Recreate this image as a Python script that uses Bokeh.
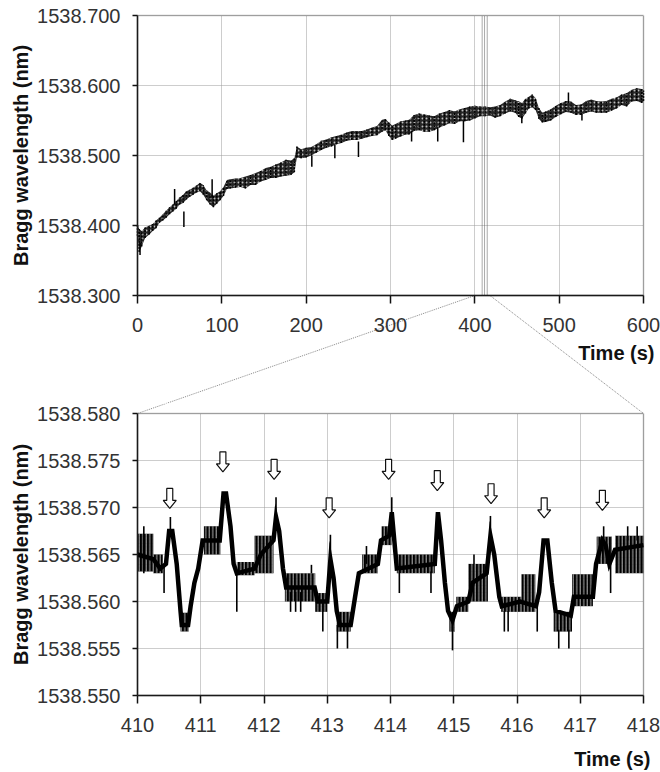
import math
from bokeh.plotting import figure
from bokeh.layouts import column
from bokeh.models import (FixedTicker, PrintfTickFormatter, Range1d, Label,
                          BoxAnnotation, Grid)
from bokeh.embed import file_html
from bokeh.resources import INLINE

# ---------------- data: full record (top panel) ----------------
top_time = [0, 2, 5, 9, 14, 18, 22, 26, 30, 34, 38, 42, 46, 50, 54, 58, 62, 66, 70, 74,
            78, 82, 86, 90, 94, 98, 102, 106, 110, 116, 122, 128, 134, 140, 146, 152, 158,
            164, 170, 176, 182, 186, 189, 194, 200, 206, 212, 218, 224, 230, 236, 242, 248,
            254, 260, 266, 272, 278, 284, 290, 294, 298, 302, 306, 312, 318, 322, 328, 334,
            340, 346, 352, 358, 364, 370, 376, 382, 388, 394, 400, 406, 412, 418, 424, 430,
            436, 442, 448, 452, 456, 460, 464, 468, 472, 476, 480, 484, 490, 496, 502, 508,
            514, 520, 526, 532, 538, 544, 550, 556, 562, 568, 574, 580, 586, 592, 598, 600]
top_lo = [1538.385, 1538.362, 1538.370, 1538.382, 1538.387, 1538.392, 1538.396, 1538.404,
          1538.407, 1538.411, 1538.416, 1538.420, 1538.424, 1538.430, 1538.432, 1538.437,
          1538.441, 1538.444, 1538.447, 1538.449, 1538.444, 1538.436, 1538.430, 1538.426,
          1538.431, 1538.436, 1538.442, 1538.452, 1538.453, 1538.454, 1538.455, 1538.453,
          1538.458, 1538.458, 1538.463, 1538.465, 1538.468, 1538.468, 1538.470, 1538.471,
          1538.472, 1538.476, 1538.497, 1538.496, 1538.497, 1538.500, 1538.504, 1538.508,
          1538.511, 1538.513, 1538.516, 1538.518, 1538.521, 1538.522, 1538.522, 1538.524,
          1538.526, 1538.528, 1538.529, 1538.534, 1538.536, 1538.528, 1538.522, 1538.524,
          1538.527, 1538.530, 1538.530, 1538.535, 1538.536, 1538.534, 1538.534, 1538.536,
          1538.540, 1538.543, 1538.546, 1538.545, 1538.549, 1538.549, 1538.550, 1538.553,
          1538.556, 1538.556, 1538.557, 1538.554, 1538.556, 1538.560, 1538.563, 1538.561,
          1538.555, 1538.553, 1538.560, 1538.567, 1538.569, 1538.565, 1538.552, 1538.547,
          1538.548, 1538.550, 1538.555, 1538.559, 1538.562, 1538.561, 1538.558, 1538.558,
          1538.561, 1538.563, 1538.561, 1538.561, 1538.561, 1538.564, 1538.567, 1538.572,
          1538.570, 1538.577, 1538.578, 1538.575, 1538.578]
top_hi = [1538.402, 1538.395, 1538.392, 1538.397, 1538.400, 1538.402, 1538.407, 1538.411,
          1538.416, 1538.421, 1538.426, 1538.430, 1538.435, 1538.440, 1538.444, 1538.449,
          1538.451, 1538.454, 1538.457, 1538.461, 1538.458, 1538.450, 1538.447, 1538.443,
          1538.446, 1538.449, 1538.455, 1538.465, 1538.466, 1538.467, 1538.468, 1538.470,
          1538.472, 1538.475, 1538.478, 1538.482, 1538.484, 1538.487, 1538.490, 1538.494,
          1538.493, 1538.496, 1538.513, 1538.509, 1538.511, 1538.512, 1538.516, 1538.521,
          1538.523, 1538.526, 1538.528, 1538.530, 1538.533, 1538.535, 1538.535, 1538.535,
          1538.537, 1538.540, 1538.542, 1538.551, 1538.552, 1538.547, 1538.543, 1538.545,
          1538.549, 1538.550, 1538.551, 1538.558, 1538.560, 1538.559, 1538.557, 1538.556,
          1538.560, 1538.562, 1538.565, 1538.563, 1538.566, 1538.568, 1538.570, 1538.571,
          1538.570, 1538.570, 1538.569, 1538.570, 1538.572, 1538.577, 1538.581, 1538.579,
          1538.577, 1538.575, 1538.581, 1538.584, 1538.587, 1538.582, 1538.568, 1538.561,
          1538.563, 1538.566, 1538.571, 1538.575, 1538.578, 1538.577, 1538.572, 1538.573,
          1538.578, 1538.580, 1538.578, 1538.577, 1538.578, 1538.581, 1538.583, 1538.587,
          1538.589, 1538.594, 1538.596, 1538.595, 1538.593]
top_spike_time = [3, 44, 55, 88.5, 206.7, 234, 262, 325, 356, 386.5, 455.7, 511, 527]
top_spike_lo = [1538.358, 1538.430, 1538.398, 1538.440, 1538.484, 1538.496, 1538.498,
                1538.520, 1538.520, 1538.519, 1538.546, 1538.575, 1538.550]
top_spike_hi = [1538.375, 1538.452, 1538.420, 1538.466, 1538.500, 1538.515, 1538.520,
                1538.535, 1538.540, 1538.550, 1538.556, 1538.590, 1538.560]
top_xticks = [0, 100, 200, 300, 400, 500, 600]
top_yticks = [1538.300, 1538.400, 1538.500, 1538.600, 1538.700]
zoom_marks = [408.7, 411.5, 414.7]
connector_from = [400, 418]

# ---------------- data: zoomed record (bottom panel) ----------------
bot_time = [410.00, 410.25, 410.36, 410.45, 410.50, 410.55, 410.62, 410.68, 410.70, 410.80,
            410.84, 410.90, 410.96, 411.03, 411.30, 411.36, 411.40, 411.47, 411.52, 411.57,
            411.85, 411.95, 412.15, 412.19, 412.24, 412.30, 412.35, 412.80, 412.85, 413.00,
            413.05, 413.10, 413.15, 413.20, 413.37, 413.44, 413.50, 413.80, 413.85, 413.98,
            414.02, 414.06, 414.10, 414.70, 414.75, 414.80, 414.86, 414.91, 414.98, 415.05,
            415.23, 415.30, 415.52, 415.58, 415.64, 415.72, 415.76, 416.05, 416.30, 416.35,
            416.42, 416.48, 416.55, 416.61, 416.85, 416.90, 417.20, 417.25, 417.35, 417.40,
            417.46, 417.55, 418.00]
bot_value = [1538.5650, 1538.5645, 1538.5635, 1538.5640, 1538.5675, 1538.5675, 1538.5640,
             1538.5590, 1538.5575, 1538.5575, 1538.5595, 1538.5620, 1538.5635, 1538.5665,
             1538.5665, 1538.5715, 1538.5715, 1538.5680, 1538.5640, 1538.5630, 1538.5635,
             1538.5650, 1538.5665, 1538.5690, 1538.5675, 1538.5635, 1538.5615, 1538.5615,
             1538.5600, 1538.5600, 1538.5645, 1538.5625, 1538.5590, 1538.5575, 1538.5575,
             1538.5605, 1538.5630, 1538.5640, 1538.5665, 1538.5670, 1538.5695, 1538.5665,
             1538.5635, 1538.5640, 1538.5695, 1538.5665, 1538.5620, 1538.5590, 1538.5580,
             1538.5595, 1538.5600, 1538.5620, 1538.5630, 1538.5670, 1538.5650, 1538.5605,
             1538.5595, 1538.5600, 1538.5595, 1538.5610, 1538.5665, 1538.5665, 1538.5620,
             1538.5590, 1538.5585, 1538.5605, 1538.5605, 1538.5640, 1538.5665, 1538.5660,
             1538.5640, 1538.5655, 1538.5660]
band_start = [410.00, 410.25, 410.68, 411.05, 411.57, 411.85, 412.33, 412.81, 413.15, 413.55,
              413.86, 414.10, 414.93, 415.04, 415.23, 415.75, 416.07, 416.58, 416.87, 417.26,
              417.55]
band_end = [410.25, 410.40, 410.81, 411.31, 411.85, 412.15, 412.81, 413.00, 413.37, 413.80,
            414.02, 414.70, 415.02, 415.23, 415.54, 416.07, 416.29, 416.87, 417.20, 417.50,
            418.00]
band_lo = [1538.5632, 1538.5630, 1538.5568, 1538.5650, 1538.5628, 1538.5630, 1538.5600,
           1538.5589, 1538.5568, 1538.5630, 1538.5660, 1538.5630, 1538.5568, 1538.5589,
           1538.5600, 1538.5589, 1538.5589, 1538.5568, 1538.5595, 1538.5640, 1538.5630]
band_hi = [1538.5672, 1538.5650, 1538.5588, 1538.5680, 1538.5642, 1538.5670, 1538.5630,
           1538.5609, 1538.5589, 1538.5650, 1538.5680, 1538.5650, 1538.5589, 1538.5605,
           1538.5640, 1538.5605, 1538.5629, 1538.5589, 1538.5629, 1538.5669, 1538.5670]
spike_time = [410.10, 410.42, 410.52, 411.57, 412.19, 412.42, 412.50, 412.58, 412.75, 412.93,
              413.05, 413.16, 413.32, 413.62, 414.02, 414.14, 414.64, 414.98, 415.32, 415.58,
              415.80, 415.86, 416.32, 416.66, 416.82, 417.37, 417.48, 417.75, 417.90]
spike_lo = [1538.5630, 1538.5609, 1538.5670, 1538.5589, 1538.5690, 1538.5589, 1538.5589,
            1538.5589, 1538.5630, 1538.5568, 1538.5645, 1538.5550, 1538.5550, 1538.5640,
            1538.5695, 1538.5609, 1538.5609, 1538.5548, 1538.5640, 1538.5670, 1538.5568,
            1538.5568, 1538.5568, 1538.5550, 1538.5550, 1538.5665, 1538.5609, 1538.5665,
            1538.5665]
spike_hi = [1538.5680, 1538.5640, 1538.5690, 1538.5630, 1538.5711, 1538.5610, 1538.5610,
            1538.5610, 1538.5639, 1538.5600, 1538.5671, 1538.5575, 1538.5575, 1538.5659,
            1538.5711, 1538.5632, 1538.5632, 1538.5580, 1538.5650, 1538.5691, 1538.5590,
            1538.5590, 1538.5595, 1538.5570, 1538.5570, 1538.5680, 1538.5640, 1538.5680,
            1538.5680]
arrow_time = [410.51, 411.35, 412.16, 413.03, 413.97, 414.74, 415.59, 416.43, 417.35]
arrow_tip = [1538.5699, 1538.5738, 1538.5730, 1538.5689, 1538.5730, 1538.5718, 1538.5704,
             1538.5689, 1538.5697]
bot_xticks = [410, 411, 412, 413, 414, 415, 416, 417, 418]
bot_yticks = [1538.550, 1538.555, 1538.560, 1538.565, 1538.570, 1538.575, 1538.580]

# ---------------- layout (page pixels) ----------------
W = 660
FL, FW = 137, 506                 # chart boxes: x from 137 to 643
TOP_Y0, TOP_BOX_H = 15, 280       # top box: y 15..295
SPLIT = 403                       # canvas boundary between the two figures
BOT_Y0, BOT_BOX_H = 413, 282      # bottom box: y 413..695
BOT_H = 367                       # bottom canvas: 403..770
YLABEL_X = 20                     # centre of the vertical axis titles
FONT = "Liberation Sans"
INK = "#000000"
GRID_C = "#9a9a9a"
EDGE = "#333333"
HAS_CB = "cross_bounds" in Grid.properties()


def make_panel(height, x0, sx, y_top_px, y1, sy, box_top_px, xt, yt):
    """Figure whose frame is its whole canvas; the chart box sits inside it."""
    box_h = (yt[-1] - yt[0]) / sy
    p = figure(width=W, height=height,
               x_range=Range1d(x0 - FL * sx, x0 + (W - FL) * sx),
               y_range=Range1d(yt[0] - (height - box_top_px - box_h) * sy,
                               yt[-1] + box_top_px * sy),
               output_backend="svg", toolbar_location=None,
               min_border_left=0, min_border_right=0, min_border_top=0,
               min_border_bottom=0)
    p.background_fill_color = "white"
    p.border_fill_color = "white"
    p.outline_line_color = None
    p.xaxis.fixed_location = yt[0]
    p.yaxis.fixed_location = xt[0]
    p.xaxis.ticker = FixedTicker(ticks=xt)
    p.yaxis.ticker = FixedTicker(ticks=yt)
    p.xaxis.bounds = (xt[0], xt[-1])
    p.yaxis.bounds = (yt[0], yt[-1])
    p.yaxis.formatter = PrintfTickFormatter(format="%.3f")
    for ax in (p.xaxis, p.yaxis):
        ax.axis_line_color = "#111111"
        ax.axis_line_width = 1.5
        ax.major_tick_line_color = "#111111"
        ax.major_tick_line_width = 1.5
        ax.major_tick_in = 0
        ax.minor_tick_line_color = None
        ax.major_label_text_font = FONT
        ax.major_label_text_font_size = "20px"
        ax.major_label_text_color = "#333333"
    p.yaxis.major_tick_out = 5
    p.yaxis.major_label_standoff = 12
    p.xaxis.major_tick_out = 8
    p.xaxis.major_label_standoff = 14
    if HAS_CB:
        p.xgrid.ticker = FixedTicker(ticks=xt)
        p.ygrid.ticker = FixedTicker(ticks=yt)
        p.xgrid.cross_bounds = (yt[0], yt[-1])
        p.ygrid.cross_bounds = (xt[0], xt[-1])
        p.grid.grid_line_color = GRID_C
        p.grid.grid_line_dash = "1 1"
        p.grid.grid_line_width = 1
    else:
        p.grid.visible = False
        p.segment(x0=xt, y0=yt[0], x1=xt, y1=yt[-1], line_color=GRID_C, line_dash="1 1",
                  line_width=1)
        p.segment(x0=xt[0], y0=yt, x1=xt[-1], y1=yt, line_color=GRID_C, line_dash="1 1",
                  line_width=1)
    p.add_layout(BoxAnnotation(left=xt[0], right=xt[-1], bottom=yt[0], top=yt[-1],
                               fill_alpha=0, line_color=EDGE, line_width=1.5))
    # axis titles
    p.add_layout(Label(x=xt[0] - (FL - YLABEL_X) * sx, y=(yt[0] + yt[-1]) / 2,
                       text="Bragg wavelength (nm)", angle=math.pi / 2,
                       text_align="center", text_baseline="middle", text_font=FONT,
                       text_font_size="20px", text_font_style="bold",
                       text_color="#111111"))
    return p


def add_time_title(p, xt, yt, sy, below_px, right_px):
    p.add_layout(Label(x=xt[-1], y=yt[0] - below_px * sy, x_offset=right_px,
                       text="Time (s)", text_align="right", text_baseline="middle",
                       text_font=FONT, text_font_size="20px", text_font_style="bold",
                       text_color="#111111"))


# ---------------- top panel ----------------
xpx = (top_xticks[-1] - top_xticks[0]) / FW              # s per pixel
ypx = (top_yticks[-1] - top_yticks[0]) / TOP_BOX_H       # nm per pixel
p1 = make_panel(SPLIT, top_xticks[0], xpx, 0, None, ypx, TOP_Y0, top_xticks, top_yticks)
add_time_title(p1, top_xticks, top_yticks, ypx, 57, 11)

p1.varea(x=top_time, y1=top_lo, y2=top_hi, fill_color=INK, fill_alpha=0.85,
         hatch_pattern="dot", hatch_color="white", hatch_alpha=0.7, hatch_scale=4,
         hatch_weight=1)
p1.segment(x0=top_time, y0=top_lo, x1=top_time, y1=top_hi, line_color=INK, line_width=1.5,
           line_dash="2 1")
p1.segment(x0=top_spike_time, y0=top_spike_lo, x1=top_spike_time, y1=top_spike_hi,
           line_color=INK, line_width=1.5)
p1.segment(x0=zoom_marks, y0=top_yticks[0], x1=zoom_marks, y1=top_yticks[-1],
           line_color="#555555", line_dash="1 1", line_width=1)
gap_px = BOT_Y0 - (TOP_Y0 + TOP_BOX_H)
p1.segment(x0=connector_from, y0=top_yticks[0], x1=[top_xticks[0], top_xticks[-1]],
           y1=top_yticks[0] - gap_px * ypx, line_color="#888888", line_dash="1 1",
           line_width=1)

# ---------------- bottom panel ----------------
dxpx = (bot_xticks[-1] - bot_xticks[0]) / FW
dypx = (bot_yticks[-1] - bot_yticks[0]) / BOT_BOX_H
p2 = make_panel(BOT_H, bot_xticks[0], dxpx, 0, None, dypx, BOT_Y0 - SPLIT, bot_xticks,
                bot_yticks)
add_time_title(p2, bot_xticks, bot_yticks, dypx, 63, 7)
# lower ends of the connectors (same straight lines, in this panel's units)
conn_x0 = [bot_xticks[0] + (t - top_xticks[0]) / xpx * dxpx for t in connector_from]
p2.segment(x0=conn_x0, y0=bot_yticks[-1] + gap_px * dypx,
           x1=[bot_xticks[0], bot_xticks[-1]], y1=bot_yticks[-1],
           line_color="#888888", line_dash="1 1", line_width=1)

p2.quad(left=band_start, right=band_end, bottom=band_lo, top=band_hi, fill_color=INK,
        line_color=None, hatch_pattern="vertical_line", hatch_color="white", hatch_alpha=0.9,
        hatch_scale=3.5, hatch_weight=0.8)
p2.segment(x0=spike_time, y0=spike_lo, x1=spike_time, y1=spike_hi, line_color=INK,
           line_width=1.6)
p2.line(bot_time, bot_value, line_color=INK, line_width=4.5, line_join="miter")

shape = [(0, 0), (-6.5, 8), (-3, 8), (-3, 20), (3, 20), (3, 8), (6.5, 8)]
axs = [[t + sx * dxpx for sx, sy in shape] for t in arrow_time]
ays = [[v + sy * dypx for sx, sy in shape] for v in arrow_tip]
p2.patches(axs, ays, fill_color="white", line_color="#111111", line_width=1.2)

layout = column(p1, p2, spacing=0)
open("out.html", "w").write(file_html(layout, INLINE))
